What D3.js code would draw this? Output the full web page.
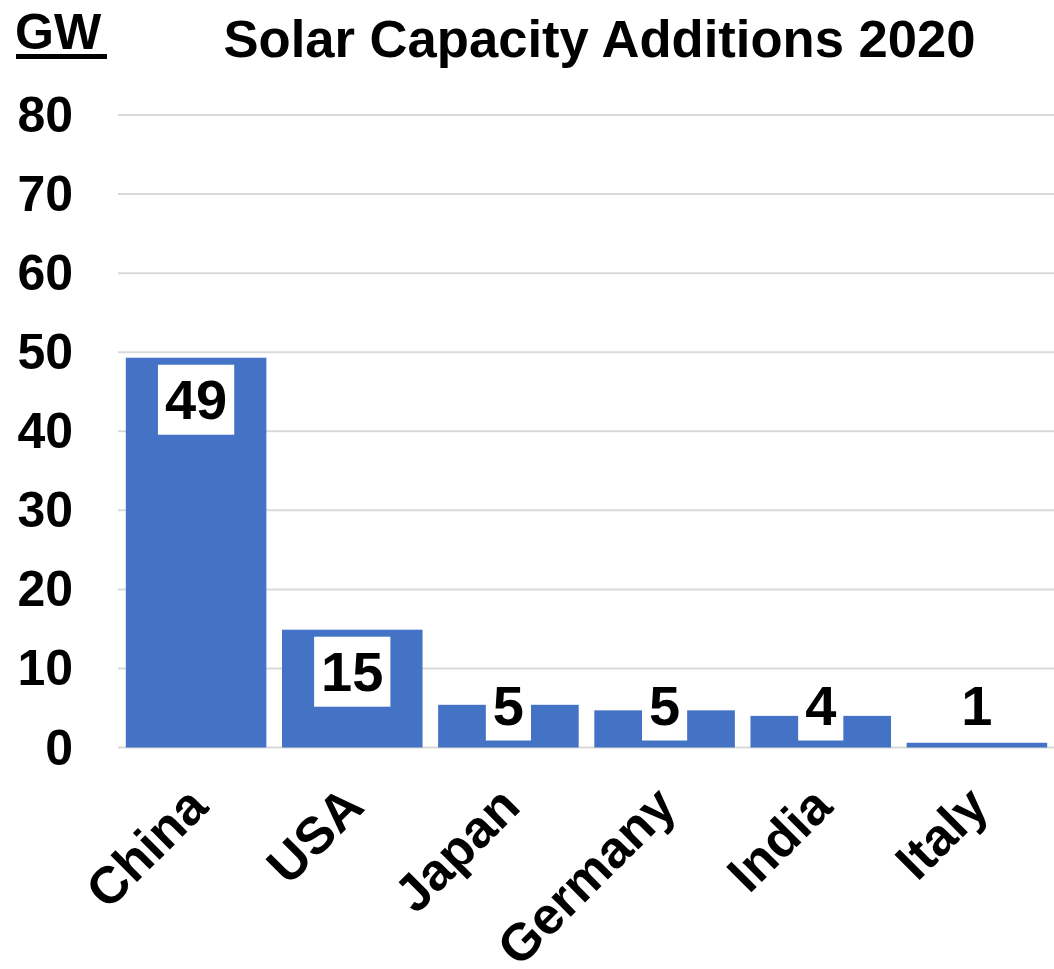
<!DOCTYPE html>
<html><head><meta charset="utf-8">
<script src="https://cdn.jsdelivr.net/npm/d3@7"></script>
<style>html,body{margin:0;padding:0;background:#fff;}svg{display:block;font-family:"Liberation Sans",Arial,sans-serif;font-weight:bold;}</style>
</head><body>
<svg id="c" width="1054" height="969"></svg>
<script>
const categories = ["China","USA","Japan","Germany","India","Italy"];
const values = [49.3, 14.9, 5.4, 4.7, 4.0, 0.6];
const yTicks = [0,10,20,30,40,50,60,70,80];
const title = "Solar Capacity Additions 2020";
const unitLabel = "GW";

const svg = d3.select("#c");
const y = d3.scaleLinear().domain([0,80]).range([747.5,115]);
const x = d3.scaleBand().domain(categories).range([118,1055]).paddingInner(0.1).paddingOuter(0.05);

// gridlines
svg.append("g").selectAll("line").data(yTicks).join("line")
  .attr("x1",118).attr("x2",1054)
  .attr("y1",d=>y(d)).attr("y2",d=>y(d))
  .attr("stroke","#d9d9d9").attr("stroke-width",2);

// y tick labels
svg.append("g").selectAll("text").data(yTicks).join("text")
  .attr("x",73).attr("y",d=>y(d)).attr("text-anchor","end")
  .attr("dominant-baseline","central")
  .attr("font-size",50).attr("fill","#000").text(d=>d);

const data = categories.map((c,i)=>({c, v:values[i]}));

svg.append("g").selectAll("rect").data(data).join("rect")
  .attr("x",d=>x(d.c)).attr("width",x.bandwidth())
  .attr("y",d=>y(d.v)).attr("height",d=>y(0)-y(d.v))
  .attr("fill","#4472C4");

// data labels
const fmt = d3.format(".0f");
const lg = svg.append("g");
data.forEach(d=>{
  const cx = x(d.c)+x.bandwidth()/2;
  const cy = Math.min(y(d.v)+42, y(0)-42);
  const g = lg.append("g");
  const t = g.append("text").attr("x",cx).attr("y",cy).attr("text-anchor","middle")
    .attr("dominant-baseline","central").attr("font-size",56).attr("fill","#000").text(fmt(d.v));
  const w = t.node().getComputedTextLength();
  g.insert("rect","text").attr("x",cx-w/2-7).attr("width",w+14)
    .attr("y",cy-35).attr("height",70).attr("fill","#fff");
});

// x labels
svg.append("g").selectAll("text").data(categories).join("text")
  .attr("transform",d=>`translate(${x(d)+x.bandwidth()/2+14},${809}) rotate(-45)`)
  .attr("text-anchor","end").attr("font-size",52).attr("fill","#000").text(d=>d);

// title
svg.append("text").attr("x",599.5).attr("y",57).attr("text-anchor","middle")
  .attr("font-size",52.6).attr("fill","#000").text(title);
// unit
const gw = svg.append("text").attr("x",15).attr("y",49).attr("font-size",50).attr("fill","#000").text(unitLabel);
svg.append("rect").attr("x",16).attr("y",54).attr("width",91).attr("height",5).attr("fill","#000");
</script>
</body></html>
